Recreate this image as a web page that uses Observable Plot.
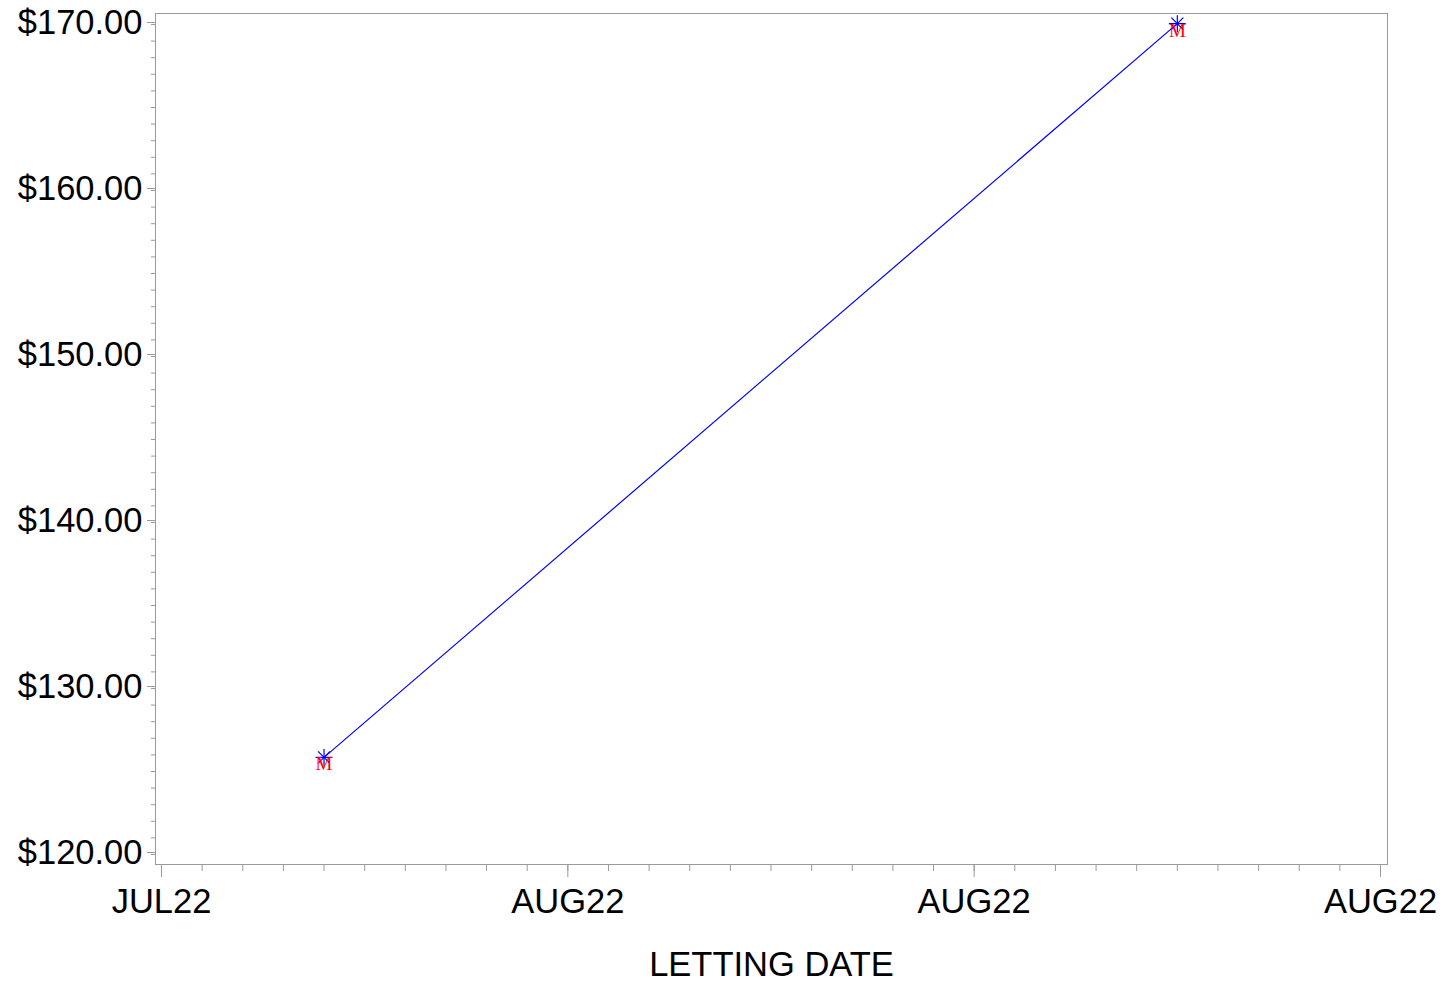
<!DOCTYPE html>
<html>
<head>
<meta charset="utf-8">
<script src="https://cdn.jsdelivr.net/npm/d3@7"></script>
<script src="https://cdn.jsdelivr.net/npm/@observablehq/plot@0.6"></script>
<style>
  html, body { margin: 0; padding: 0; background: #fff; }
</style>
</head>
<body>
<div id="chart"></div>
<script>
// Data
const lettingDates = ["2022-07-26", "2022-08-16"];
const prices = [125.85, 170.05];

// Axis ticks
const xTickDates = ["2022-07-22", "2022-08-01", "2022-08-11", "2022-08-21"];
const xTickLabels = ["JUL22", "AUG22", "AUG22", "AUG22"];
const yTicks = [120, 130, 140, 150, 160, 170];
const yMinorTicks = d3.range(120, 171, 1);

const parse = d3.utcParse("%Y-%m-%d");
const data = lettingDates.map((d, i) => ({date: parse(d), price: prices[i]}));
const xTicks = xTickDates.map(parse);
const xMinorTicks = d3.utcDay.range(xTicks[0], d3.utcDay.offset(xTicks[xTicks.length - 1], 1));
const labelByTime = new Map(xTicks.map((d, i) => [+d, xTickLabels[i]]));

const axisColor = "#9a9a9a";
const font = "'Liberation Sans', Arial, Helvetica, sans-serif";

const chart = Plot.plot({
  width: 1447,
  height: 985,
  marginLeft: 155,
  marginRight: 60,
  marginTop: 13,
  marginBottom: 121,
  style: {fontFamily: font, fontSize: "34px", color: "black", background: "white"},
  x: {type: "utc", domain: [xTicks[0], xTicks[xTicks.length - 1]], insetLeft: 6, insetRight: 7, label: null},
  y: {domain: [120, 170], insetTop: 11, insetBottom: 10, label: null},
  marks: [
    Plot.frame({stroke: axisColor, strokeWidth: 1}),
    // minor ticks
    Plot.axisY({ticks: yMinorTicks, tickSize: 4, stroke: axisColor, strokeOpacity: 1, tickFormat: () => "", label: null}),
    Plot.axisX({ticks: xMinorTicks, tickSize: 7, stroke: axisColor, strokeOpacity: 1, tickFormat: () => "", label: null}),
    // major ticks with labels
    Plot.axisY({
      ticks: yTicks, tickSize: 8, tickPadding: 5, stroke: axisColor, strokeOpacity: 1,
      fill: "black", fontSize: 34.5, dy: -2,
      tickFormat: d => "$" + d.toFixed(2), label: null
    }),
    Plot.axisX({
      ticks: xTicks, tickSize: 13, tickPadding: 11, stroke: axisColor, strokeOpacity: 1,
      fill: "black", fontSize: 34.5,
      tickFormat: d => labelByTime.get(+d), label: null
    }),
    Plot.text(["LETTING DATE"], {
      frameAnchor: "bottom", dy: 100, lineAnchor: "middle",
      fontSize: 34.5, fill: "black", fontFamily: font
    }),
    // series
    Plot.line(data, {x: "date", y: "price", stroke: "#0000ff", strokeWidth: 1.2}),
    Plot.dot(data, {x: "date", y: "price", symbol: "plus", r: 5.5, stroke: "#0000ff", strokeWidth: 1.2}),
    Plot.dot(data, {x: "date", y: "price", symbol: "times", r: 5.5, stroke: "#0000ff", strokeWidth: 1.2}),
    Plot.text(data, {
      x: "date", y: "price", text: () => "M", dy: 7, lineAnchor: "middle",
      fill: "#ff0000", fontSize: 19, fontFamily: "'Liberation Serif', 'Times New Roman', serif"
    })
  ]
});
document.getElementById("chart").appendChild(chart);
</script>
</body>
</html>
